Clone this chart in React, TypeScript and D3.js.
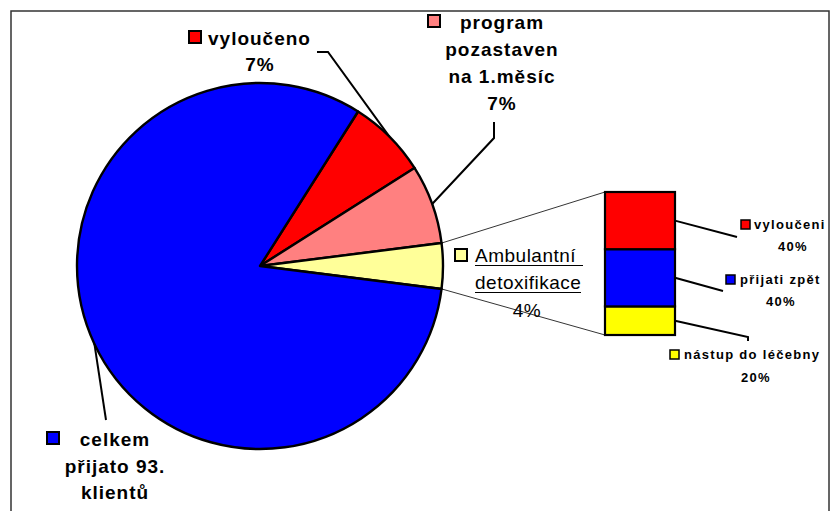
import React from "react";
import * as d3 from "d3";

const pieLabels = ["vyloučeno", "program pozastaven na 1.měsíc", "Ambulantní detoxifikace", "celkem přijato 93. klientů"];
const pieValues = [7, 7, 4, 82];
const pieColors = ["#FF0000", "#FF8080", "#FFFF99", "#0000FF"];

const barLabels = ["nástup do léčebny", "přijati zpět", "vyloučeni"];
const barValues = [20, 40, 40];
const barColors = ["#FFFF00", "#0000FF", "#FF0000"];

const W = 835, H = 511;
const cx = 260, cy = 266, R = 183;
const FONT = "'Liberation Sans', Arial, sans-serif";

export default function App() {
  const total = d3.sum(pieValues);
  const yellowIdx = 2;
  // yellow slice centred on 3 o'clock
  const before = d3.sum(pieValues.slice(0, yellowIdx)) + pieValues[yellowIdx] / 2;
  const start = Math.PI / 2 - (before / total) * 2 * Math.PI;
  const pie = d3.pie<number>().sort(null).startAngle(start).endAngle(start + 2 * Math.PI);
  const arcs = pie(pieValues);
  const arc = d3.arc<d3.PieArcDatum<number>>().innerRadius(0).outerRadius(R);
  const edge = d3.arc<d3.PieArcDatum<number>>().innerRadius(R).outerRadius(R);

  const pt = (a: number, r: number): [number, number] => [cx + r * Math.sin(a), cy - r * Math.cos(a)];
  const yA = arcs[yellowIdx];
  const yTop = pt(yA.startAngle, R);
  const yBot = pt(yA.endAngle, R);

  const barX0 = 605, barX1 = 675;
  const yScale = d3.scaleLinear().domain([0, d3.sum(barValues)]).range([335, 192]);
  const stack: { y0: number; y1: number; c: string }[] = [];
  let acc = 0;
  barValues.forEach((v, i) => {
    stack.push({ y0: acc, y1: acc + v, c: barColors[i] });
    acc += v;
  });
  const mid = (i: number) => yScale((stack[i].y0 + stack[i].y1) / 2);

  const centroid = (i: number) => {
    const c = edge.centroid(arcs[i]);
    return [cx + c[0], cy + c[1]];
  };
  const cRed = centroid(0), cPink = centroid(1), cBlue = centroid(3);

  const big = { fontFamily: FONT, fontSize: 19, fontWeight: "bold" as const, letterSpacing: 1, fill: "#000" };
  const reg = { fontFamily: FONT, fontSize: 19, fontWeight: "normal" as const, letterSpacing: 0.5, fill: "#000" };
  const small = { fontFamily: FONT, fontSize: 13, fontWeight: "bold" as const, letterSpacing: 1.3, fill: "#000" };
  const sq = (x: number, y: number, s: number, c: string, sw = 2) => (
    <rect x={x} y={y} width={s} height={s} fill={c} stroke="#000" strokeWidth={sw} />
  );

  return (
    <svg width={W} height={H} style={{ position: "absolute", left: 0, top: 0 }}>
      <rect x={0} y={0} width={W} height={H} fill="#fff" />
      <rect x={11} y={11} width={818} height={540} fill="none" stroke="#333" strokeWidth={1.5} />

      {/* pie */}
      <g transform={`translate(${cx},${cy})`}>
        {arcs.map((a, i) => (
          <path key={i} d={arc(a) || ""} fill={pieColors[i]} stroke="#000" strokeWidth={2.4} strokeLinejoin="round" />
        ))}
      </g>

      {/* connectors to bar */}
      <line x1={yTop[0]} y1={yTop[1]} x2={barX0} y2={yScale(acc)} stroke="#000" strokeWidth={0.8} />
      <line x1={yBot[0]} y1={yBot[1]} x2={barX0} y2={yScale(0)} stroke="#000" strokeWidth={0.8} />

      {/* bar */}
      {stack.map((s, i) => (
        <rect key={i} x={barX0} y={yScale(s.y1)} width={barX1 - barX0} height={yScale(s.y0) - yScale(s.y1)}
          fill={s.c} stroke="#000" strokeWidth={2.2} />
      ))}

      {/* pie leader lines */}
      <polyline points={`317,52 328,52 ${cRed[0]},${cRed[1]}`} fill="none" stroke="#000" strokeWidth={2} />
      <polyline points={`494,122 494,138 ${cPink[0]},${cPink[1]}`} fill="none" stroke="#000" strokeWidth={2} />
      <polyline points={`106,420 ${cBlue[0]},${cBlue[1]}`} fill="none" stroke="#000" strokeWidth={2} />

      {/* bar leader lines */}
      <polyline points={`${barX1},${mid(2)} 737,237`} fill="none" stroke="#000" strokeWidth={2} />
      <polyline points={`${barX1},${mid(1)} 723,291`} fill="none" stroke="#000" strokeWidth={2} />
      <polyline points={`${barX1},${mid(0)} 748,337 748,341`} fill="none" stroke="#000" strokeWidth={2} />

      {/* pie labels */}
      {sq(189, 31, 12, pieColors[0])}
      <text x={208} y={45} {...big}>{pieLabels[0]}</text>
      <text x={260} y={71} textAnchor="middle" {...big}>7%</text>

      {sq(428, 15, 12, pieColors[1])}
      <text x={502} y={29} textAnchor="middle" {...big}>program</text>
      <text x={502} y={56} textAnchor="middle" {...big}>pozastaven</text>
      <text x={502} y={83} textAnchor="middle" {...big}>na 1.měsíc</text>
      <text x={502} y={110} textAnchor="middle" {...big}>7%</text>

      {sq(455, 249, 12, pieColors[2])}
      <text x={475} y={262} {...reg}>Ambulantní</text>
      <line x1={475} y1={265.5} x2={583} y2={265.5} stroke="#000" strokeWidth={1} />
      <text x={475} y={289} {...reg}>detoxifikace</text>
      <line x1={475} y1={292.5} x2={581} y2={292.5} stroke="#000" strokeWidth={1} />
      <text x={527} y={317} textAnchor="middle" {...reg}>4%</text>

      {sq(47, 432, 12, pieColors[3])}
      <text x={115} y={446} textAnchor="middle" {...big}>celkem</text>
      <text x={115} y={473} textAnchor="middle" {...big}>přijato 93.</text>
      <text x={115} y={499} textAnchor="middle" {...big}>klientů</text>

      {/* bar labels */}
      {sq(741, 220, 9, barColors[2], 1.5)}
      <text x={754} y={229} {...small}>{barLabels[2]}</text>
      <text x={793} y={251} textAnchor="middle" {...small}>40%</text>

      {sq(726, 275, 9, barColors[1], 1.5)}
      <text x={740} y={284} {...small}>{barLabels[1]}</text>
      <text x={781} y={306} textAnchor="middle" {...small}>40%</text>

      {sq(670, 350, 9, barColors[0], 1.5)}
      <text x={684} y={359} {...small}>{barLabels[0]}</text>
      <text x={756} y={382} textAnchor="middle" {...small}>20%</text>
    </svg>
  );
}
